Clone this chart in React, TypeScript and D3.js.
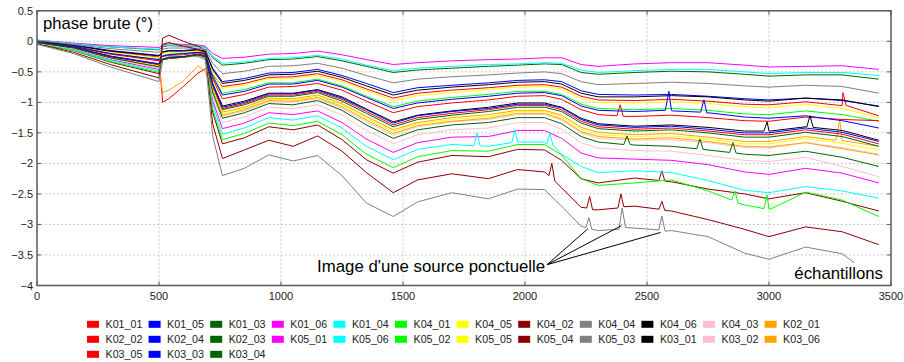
import * as d3 from 'd3';

const sampleX = [0, 150, 300, 500, 515, 540, 600, 660, 690, 720, 760, 850, 950, 1050, 1150, 1250, 1350, 1460, 1560, 1700, 1850, 1970, 2080, 2150, 2230, 2300, 2450, 2600, 2750, 2900, 3000, 3150, 3300, 3450];

const K01_01 = [0.00, -0.07, -0.17, -0.26, -1.00, -0.94, -0.74, -0.52, -0.45, -0.55, -0.74, -0.69, -0.59, -0.58, -0.53, -0.63, -0.78, -0.93, -0.85, -0.80, -0.76, -0.72, -0.71, -0.75, -0.90, -0.96, -0.97, -0.95, -0.98, -1.03, -1.04, -0.99, -1.05, -1.22];
const K01_05 = [0.00, -0.06, -0.15, -0.23, -0.17, -0.15, -0.15, -0.13, -0.16, -0.44, -0.66, -0.61, -0.52, -0.51, -0.46, -0.56, -0.69, -0.84, -0.76, -0.72, -0.68, -0.64, -0.63, -0.66, -0.81, -0.87, -0.88, -0.87, -0.90, -0.94, -0.96, -0.93, -0.97, -1.06];
const K01_03 = [0.01, -0.04, -0.09, -0.14, -0.09, -0.07, -0.08, -0.08, -0.10, -0.27, -0.39, -0.36, -0.30, -0.29, -0.25, -0.32, -0.41, -0.51, -0.47, -0.44, -0.41, -0.39, -0.37, -0.38, -0.51, -0.54, -0.51, -0.49, -0.50, -0.54, -0.57, -0.55, -0.55, -0.62];
const K01_06 = [0.02, -0.03, -0.07, -0.10, -0.06, -0.04, -0.05, -0.06, -0.08, -0.20, -0.28, -0.26, -0.21, -0.20, -0.16, -0.22, -0.30, -0.38, -0.35, -0.32, -0.30, -0.29, -0.27, -0.27, -0.38, -0.41, -0.37, -0.35, -0.35, -0.39, -0.42, -0.41, -0.40, -0.46];
const K01_04 = [0.02, -0.04, -0.09, -0.13, -0.08, -0.06, -0.07, -0.08, -0.10, -0.25, -0.36, -0.34, -0.28, -0.27, -0.23, -0.29, -0.39, -0.48, -0.44, -0.41, -0.38, -0.37, -0.35, -0.36, -0.47, -0.51, -0.48, -0.46, -0.46, -0.50, -0.53, -0.51, -0.51, -0.56];
const K04_01 = [-0.01, -0.08, -0.20, -0.30, -0.23, -0.21, -0.20, -0.17, -0.20, -0.56, -0.85, -0.79, -0.68, -0.68, -0.62, -0.73, -0.90, -1.07, -0.98, -0.92, -0.87, -0.82, -0.82, -0.87, -1.03, -1.10, -1.12, -1.10, -1.13, -1.19, -1.20, -1.14, -1.20, -1.31];
const K04_05 = [0.00, -0.07, -0.18, -0.27, -0.20, -0.18, -0.18, -0.16, -0.18, -0.51, -0.77, -0.72, -0.61, -0.61, -0.56, -0.66, -0.81, -0.97, -0.89, -0.84, -0.79, -0.75, -0.74, -0.78, -0.94, -1.00, -1.01, -0.99, -1.02, -1.07, -1.09, -1.03, -1.10, -1.25];
const K04_02 = [-0.04, -0.15, -0.34, -0.53, 0.05, 0.10, 0.00, -0.08, -0.15, -1.16, -1.68, -1.58, -1.40, -1.45, -1.37, -1.61, -1.94, -2.16, -1.98, -1.87, -1.89, -1.77, -1.78, -1.95, -2.25, -2.32, -2.24, -2.30, -2.42, -2.50, -2.58, -2.48, -2.62, -2.78];
const K04_04 = [0.01, -0.05, -0.12, -0.18, -0.13, -0.11, -0.11, -0.11, -0.13, -0.36, -0.53, -0.49, -0.41, -0.40, -0.36, -0.44, -0.56, -0.68, -0.62, -0.58, -0.55, -0.52, -0.50, -0.53, -0.66, -0.71, -0.69, -0.67, -0.69, -0.73, -0.75, -0.72, -0.74, -0.85];
const K04_06 = [0.00, -0.07, -0.16, -0.24, -0.18, -0.16, -0.16, -0.14, -0.17, -0.46, -0.69, -0.64, -0.55, -0.54, -0.49, -0.59, -0.73, -0.88, -0.80, -0.75, -0.71, -0.67, -0.66, -0.70, -0.85, -0.91, -0.91, -0.89, -0.91, -0.96, -0.98, -0.93, -0.96, -1.07];
const K04_03 = [-0.02, -0.11, -0.27, -0.41, -0.30, -0.28, -0.26, -0.22, -0.26, -0.81, -1.22, -1.14, -0.99, -1.00, -0.94, -1.09, -1.32, -1.54, -1.40, -1.32, -1.28, -1.20, -1.20, -1.29, -1.50, -1.59, -1.62, -1.61, -1.66, -1.74, -1.75, -1.66, -1.74, -1.85];
const K02_01 = [-0.02, -0.11, -0.26, -0.40, -0.84, -0.80, -0.65, -0.40, -0.50, -0.78, -1.16, -1.08, -0.93, -0.94, -0.88, -1.02, -1.23, -1.45, -1.33, -1.25, -1.20, -1.13, -1.13, -1.21, -1.41, -1.49, -1.53, -1.51, -1.57, -1.64, -1.64, -1.56, -1.63, -1.72];
const K02_02 = [-0.01, -0.09, -0.21, -0.32, -0.25, -0.23, -0.22, -0.19, -0.22, -0.62, -0.94, -0.87, -0.75, -0.74, -0.69, -0.80, -0.98, -1.17, -1.07, -1.01, -0.96, -0.90, -0.89, -0.95, -1.12, -1.20, -1.23, -1.21, -1.25, -1.30, -1.31, -1.24, -1.28, -1.30];
const K02_04 = [-0.01, -0.08, -0.20, -0.30, -0.24, -0.22, -0.20, -0.18, -0.20, -0.58, -0.88, -0.82, -0.70, -0.70, -0.64, -0.75, -0.92, -1.10, -1.01, -0.95, -0.90, -0.85, -0.84, -0.89, -1.06, -1.13, -1.15, -1.13, -1.17, -1.24, -1.26, -1.22, -1.30, -1.42];
const K02_03 = [-0.02, -0.10, -0.25, -0.39, -0.30, -0.28, -0.26, -0.22, -0.25, -0.74, -1.12, -1.04, -0.90, -0.90, -0.84, -0.98, -1.18, -1.40, -1.28, -1.21, -1.15, -1.08, -1.08, -1.15, -1.34, -1.43, -1.47, -1.45, -1.50, -1.57, -1.57, -1.49, -1.56, -1.72];
const K05_01 = [-0.03, -0.13, -0.30, -0.46, -0.30, -0.27, -0.26, -0.23, -0.27, -0.97, -1.43, -1.34, -1.17, -1.20, -1.14, -1.33, -1.60, -1.82, -1.66, -1.57, -1.56, -1.46, -1.46, -1.59, -1.83, -1.91, -1.93, -1.95, -2.02, -2.14, -2.18, -2.08, -2.16, -2.32];
const K05_06 = [-0.03, -0.14, -0.31, -0.49, -0.30, -0.27, -0.26, -0.23, -0.27, -1.03, -1.52, -1.42, -1.25, -1.29, -1.22, -1.42, -1.72, -1.94, -1.77, -1.69, -1.72, -1.65, -1.65, -1.85, -2.05, -2.15, -2.12, -2.15, -2.28, -2.44, -2.48, -2.38, -2.45, -2.57];
const K05_02 = [-0.03, -0.15, -0.33, -0.51, -0.30, -0.27, -0.26, -0.23, -0.27, -1.11, -1.61, -1.51, -1.34, -1.38, -1.31, -1.53, -1.85, -2.07, -1.89, -1.79, -1.80, -1.69, -1.69, -1.86, -2.25, -2.36, -2.32, -2.27, -2.45, -2.68, -2.75, -2.47, -2.60, -2.87];
const K05_05 = [-0.02, -0.11, -0.26, -0.40, -0.30, -0.28, -0.26, -0.22, -0.25, -0.78, -1.18, -1.10, -0.95, -0.96, -0.90, -1.04, -1.26, -1.48, -1.35, -1.28, -1.23, -1.15, -1.15, -1.24, -1.44, -1.53, -1.56, -1.55, -1.60, -1.68, -1.68, -1.59, -1.67, -1.78];
const K05_04 = [-0.04, -0.18, -0.38, -0.60, -0.05, -0.02, -0.08, -0.13, -0.20, -1.35, -1.92, -1.78, -1.62, -1.72, -1.55, -1.80, -2.15, -2.48, -2.27, -2.17, -2.25, -2.10, -2.14, -2.40, -2.72, -2.76, -2.70, -2.78, -2.92, -3.08, -3.20, -3.04, -3.12, -3.33];
const K05_03 = [-0.05, -0.20, -0.42, -0.66, -0.30, -0.25, -0.25, -0.25, -0.30, -1.55, -2.20, -2.08, -1.86, -1.96, -1.87, -2.20, -2.65, -2.87, -2.63, -2.48, -2.58, -2.42, -2.43, -2.70, -3.03, -3.10, -3.06, -3.10, -3.20, -3.47, -3.57, -3.37, -3.48, null];
const K03_01 = [-0.02, -0.10, -0.24, -0.37, -0.29, -0.27, -0.25, -0.21, -0.24, -0.69, -1.06, -0.98, -0.85, -0.85, -0.79, -0.91, -1.11, -1.32, -1.21, -1.14, -1.08, -1.01, -1.01, -1.08, -1.26, -1.35, -1.39, -1.37, -1.41, -1.47, -1.47, -1.40, -1.46, -1.62];
const K03_02 = [-0.03, -0.12, -0.28, -0.44, -0.30, -0.27, -0.26, -0.23, -0.26, -0.89, -1.33, -1.24, -1.08, -1.10, -1.04, -1.21, -1.46, -1.68, -1.53, -1.45, -1.42, -1.33, -1.33, -1.44, -1.66, -1.75, -1.79, -1.80, -1.87, -1.95, -1.97, -1.90, -2.05, -2.22];
const K03_06 = [-0.02, -0.11, -0.27, -0.41, -0.30, -0.28, -0.26, -0.22, -0.25, -0.80, -1.21, -1.12, -0.97, -0.98, -0.92, -1.07, -1.29, -1.51, -1.38, -1.31, -1.26, -1.18, -1.18, -1.27, -1.48, -1.56, -1.60, -1.58, -1.64, -1.72, -1.73, -1.66, -1.76, -1.86];
const K03_05 = [-0.02, -0.10, -0.25, -0.38, -0.30, -0.28, -0.26, -0.22, -0.25, -0.72, -1.10, -1.02, -0.88, -0.88, -0.82, -0.95, -1.15, -1.37, -1.25, -1.18, -1.12, -1.05, -1.05, -1.12, -1.31, -1.40, -1.44, -1.42, -1.47, -1.53, -1.53, -1.45, -1.52, -1.68];
const K03_03 = [-0.02, -0.10, -0.25, -0.37, -0.29, -0.27, -0.25, -0.22, -0.25, -0.70, -1.08, -1.00, -0.86, -0.86, -0.80, -0.93, -1.12, -1.34, -1.22, -1.15, -1.10, -1.03, -1.03, -1.09, -1.28, -1.37, -1.41, -1.39, -1.44, -1.50, -1.50, -1.42, -1.49, -1.64];
const K03_04 = [-0.02, -0.11, -0.27, -0.42, -0.30, -0.28, -0.26, -0.22, -0.26, -0.84, -1.26, -1.17, -1.02, -1.04, -0.97, -1.13, -1.37, -1.59, -1.45, -1.37, -1.33, -1.25, -1.25, -1.35, -1.56, -1.65, -1.70, -1.72, -1.78, -1.85, -1.87, -1.80, -1.90, -2.05];

const sharpPeaks: [string, number, number][] = [
    ['K05_03', 2250, -3.05], ['K05_03', 2262, -2.89], ['K05_03', 2274, -3.08],
    ['K05_03', 2385, -3.08], ['K05_03', 2398, -2.73], ['K05_03', 2412, -3.05],
    ['K05_03', 2548, -3.09], ['K05_03', 2561, -2.86], ['K05_03', 2574, -3.11],
    ['K05_03', 3350, -3.63],
    ['K05_04', 2098, -2.20], ['K05_04', 2110, -2.00], ['K05_04', 2122, -2.29],
    ['K05_04', 2253, -2.73], ['K05_04', 2265, -2.54], ['K05_04', 2277, -2.76],
    ['K05_04', 2381, -2.73], ['K05_04', 2393, -2.50], ['K05_04', 2405, -2.71],
    ['K05_04', 2549, -2.75], ['K05_04', 2561, -2.62], ['K05_04', 2573, -2.77],
    ['K04_02', 2549, -2.28], ['K04_02', 2561, -2.12], ['K04_02', 2573, -2.29],
    ['K05_06', 1790, -1.71], ['K05_06', 1803, -1.50], ['K05_06', 1816, -1.71],
    ['K05_06', 1946, -1.66], ['K05_06', 1959, -1.45], ['K05_06', 1972, -1.65],
    ['K05_06', 2090, -1.68], ['K05_06', 2102, -1.50], ['K05_06', 2114, -1.70],
    ['K03_04', 2405, -1.69], ['K03_04', 2418, -1.55], ['K03_04', 2431, -1.69],
    ['K03_04', 2704, -1.76], ['K03_04', 2717, -1.60], ['K03_04', 2730, -1.77],
    ['K03_04', 2839, -1.82], ['K03_04', 2852, -1.66], ['K03_04', 2865, -1.83],
    ['K05_02', 2847, -2.60], ['K05_02', 2860, -2.45], ['K05_02', 2873, -2.65],
    ['K05_02', 2979, -2.74], ['K05_02', 2992, -2.52], ['K05_02', 3005, -2.75],
    ['K02_02', 2377, -1.22], ['K02_02', 2390, -1.04], ['K02_02', 2403, -1.23],
    ['K01_01', 3290, -1.05], ['K01_01', 3303, -0.84], ['K01_01', 3316, -1.05],
    ['K02_04', 2575, -1.13], ['K02_04', 2590, -0.82], ['K02_04', 2605, -1.14],
    ['K02_04', 2720, -1.16], ['K02_04', 2733, -0.96], ['K02_04', 2746, -1.18],
    ['K02_01', 3275, -1.62], ['K02_01', 3290, -1.28], ['K02_01', 3305, -1.63],
    ['K03_01', 2979, -1.47], ['K03_01', 2992, -1.32], ['K03_01', 3005, -1.47],
    ['K03_01', 3155, -1.40], ['K03_01', 3168, -1.22], ['K03_01', 3181, -1.41],
];

const seriesNames = ['K01_01', 'K01_05', 'K01_03', 'K01_06', 'K01_04', 'K04_01', 'K04_05', 'K04_02', 'K04_04', 'K04_06', 'K04_03', 'K02_01',
    'K02_02', 'K02_04', 'K02_03', 'K05_01', 'K05_06', 'K05_02', 'K05_05', 'K05_04', 'K05_03', 'K03_01', 'K03_02', 'K03_06',
    'K03_05', 'K03_03', 'K03_04'];
const seriesValues = [K01_01, K01_05, K01_03, K01_06, K01_04, K04_01, K04_05, K04_02, K04_04, K04_06, K04_03, K02_01,
    K02_02, K02_04, K02_03, K05_01, K05_06, K05_02, K05_05, K05_04, K05_03, K03_01, K03_02, K03_06,
    K03_05, K03_03, K03_04];
const palette = ['#ff0000', '#0000ff', '#006400', '#ff00ff', '#00ffff', '#00ff00', '#ffff00', '#8b0000', '#808080', '#000000', '#ffc0cb', '#ffa500'];

const xTicks = [0, 500, 1000, 1500, 2000, 2500, 3000, 3500];
const yTicks = [0.5, 0, -0.5, -1, -1.5, -2, -2.5, -3, -3.5, -4];

const yTitle = 'phase brute (°)';
const xTitle = 'échantillons';
const calloutText = "Image d'une source ponctuelle";
const calloutFrom: [number, number] = [2090, -3.66];
const calloutTo: [number, number][] = [[2258, -3.07], [2395, -3.02], [2556, -3.13]];

const W = 904;
const H = 362;
const FONT = '"Liberation Sans", Arial, sans-serif';

export default function App() {
    const x = d3.scaleLinear().domain([0, 3500]).range([37, 891]);
    const y = d3.scaleLinear().domain([-4, 0.5]).range([285.5, 10.8]);
    const color = d3.scaleOrdinal<number, string>().domain(d3.range(12)).range(palette);

    const line = d3.line<[number, number]>()
        .x(d => x(d[0]))
        .y(d => y(d[1]));

    const paths = seriesNames.map((name, i) => {
        const pts: [number, number][] = [];
        sampleX.forEach((sx, j) => {
            const v = seriesValues[i][j];
            if (v !== null && v !== undefined) pts.push([sx, v]);
        });
        sharpPeaks.filter(p => p[0] === name).forEach(p => pts.push([p[1], p[2]]));
        pts.sort((a, b) => a[0] - b[0]);
        return { name, d: line(pts) || '', stroke: color(i % 12) };
    });

    const [x0, x1] = x.range();
    const [y0, y1] = y.range();
    const frame = '#5a5a5a';

    return (
        <div style={{ position: 'absolute', left: 0, top: 0 }}>
            <svg width={W} height={H} style={{ display: 'block', background: '#fff' }} fontFamily={FONT}>
                {/* grid */}
                <g stroke="#c8c8c8" strokeWidth={1} strokeDasharray="2,2">
                    {xTicks.slice(1, -1).map(t => (
                        <line key={'gx' + t} x1={x(t)} x2={x(t)} y1={y1} y2={y0} />
                    ))}
                    {yTicks.slice(1, -1).map(t => (
                        <line key={'gy' + t} x1={x0} x2={x1} y1={y(t)} y2={y(t)} />
                    ))}
                </g>

                {/* curves */}
                <g fill="none" strokeWidth={1} strokeLinejoin="round">
                    {paths.map(p => (
                        <path key={p.name} d={p.d} stroke={p.stroke} />
                    ))}
                </g>

                {/* frame and inward ticks */}
                <rect x={x0} y={y1} width={x1 - x0} height={y0 - y1} fill="none" stroke={frame} strokeWidth={1.5} />
                <g stroke={frame} strokeWidth={1}>
                    {xTicks.map(t => (
                        <g key={'tx' + t}>
                            <line x1={x(t)} x2={x(t)} y1={y0} y2={y0 - 4} />
                            <line x1={x(t)} x2={x(t)} y1={y1} y2={y1 + 4} />
                        </g>
                    ))}
                    {yTicks.map(t => (
                        <g key={'ty' + t}>
                            <line x1={x0} x2={x0 + 4} y1={y(t)} y2={y(t)} />
                            <line x1={x1} x2={x1 - 4} y1={y(t)} y2={y(t)} />
                        </g>
                    ))}
                </g>

                {/* tick labels */}
                <g fontSize={11} fill="#222">
                    {xTicks.map(t => (
                        <text key={'lx' + t} x={x(t)} y={y0 + 14} textAnchor="middle">{t}</text>
                    ))}
                    {yTicks.map(t => (
                        <text key={'ly' + t} x={x0 - 4} y={y(t) + 4} textAnchor="end">{t < 0 ? '\u2212' + Math.abs(t) : String(t)}</text>
                    ))}
                </g>

                {/* titles */}
                <text x={43} y={29} fontSize={16.6} fill="#000">{yTitle}</text>
                <text x={883} y={279} fontSize={16.8} fill="#000" textAnchor="end">{xTitle}</text>

                {/* callout */}
                <text x={x(1148)} y={272} fontSize={16.8} fill="#000">{calloutText}</text>
                <g stroke="#000" strokeWidth={1}>
                    {calloutTo.map((c, i) => (
                        <line key={'co' + i} x1={x(calloutFrom[0])} y1={y(calloutFrom[1])} x2={x(c[0])} y2={y(c[1])} />
                    ))}
                </g>

                {/* legend */}
                <g fontSize={10.7} fill="#222">
                    {seriesNames.map((name, i) => {
                        const col = i % 12;
                        const row = Math.floor(i / 12);
                        const lx = 87 + col * 61.6;
                        const ly = 324.3 + row * 15;
                        return (
                            <g key={'lg' + name}>
                                <rect x={lx} y={ly - 3.5} width={12} height={7} fill={color(i % 12)} />
                                <text x={lx + 18.5} y={ly + 4}>{name}</text>
                            </g>
                        );
                    })}
                </g>
            </svg>
        </div>
    );
}
